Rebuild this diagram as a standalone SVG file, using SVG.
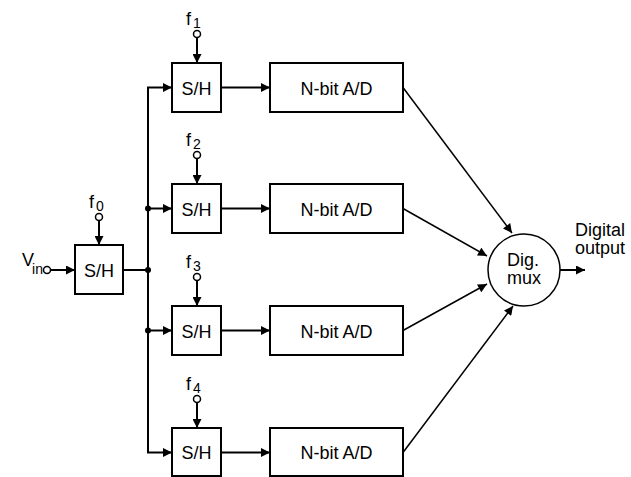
<svg xmlns="http://www.w3.org/2000/svg" width="631" height="477" viewBox="0 0 631 477">
  <style>
    .box { fill: #fff; stroke: #000; stroke-width: 2; }
    .wire { fill: none; stroke: #000; stroke-width: 2; }
    .thin { fill: none; stroke: #000; stroke-width: 1.5; }
    .term { fill: #fff; stroke: #000; stroke-width: 1.5; }
    .dot { fill: #000; }
    text { font-family: "Liberation Sans", Arial, sans-serif; font-size: 18px; fill: #000; }
    .mid { text-anchor: middle; }
    .end { text-anchor: end; }
    .sub { font-size: 14px; }
  </style>
  <defs>
    <marker id="arr" viewBox="0 0 10 10" refX="10" refY="5" markerWidth="10" markerHeight="9" markerUnits="userSpaceOnUse" orient="auto">
      <path d="M0,0 L10,5 L0,10 Z" fill="#000"/>
    </marker>
  </defs>

  <rect width="631" height="477" fill="#fff"/>

  <!-- connectors -->
  <g id="connectors">
    <!-- input to first sample/hold -->
    <line class="wire" x1="50.5" y1="270" x2="75" y2="270" marker-end="url(#arr)"/>
    <line class="wire" x1="99" y1="220.5" x2="99" y2="245" marker-end="url(#arr)"/>
    <!-- first S/H output onto the distribution bus -->
    <line class="wire" x1="123" y1="270" x2="148" y2="270"/>
    <line class="wire" x1="148" y1="87.5" x2="148" y2="452.5"/>
    <circle class="dot" cx="148" cy="270" r="3"/>
    <circle class="dot" cx="148" cy="208.5" r="3"/>
    <circle class="dot" cx="148" cy="330.5" r="3"/>
    <!-- bus to each channel S/H -->
    <line class="wire" x1="147" y1="87.5" x2="172" y2="87.5" marker-end="url(#arr)"/>
    <line class="wire" x1="148" y1="208.5" x2="172" y2="208.5" marker-end="url(#arr)"/>
    <line class="wire" x1="148" y1="330.5" x2="172" y2="330.5" marker-end="url(#arr)"/>
    <line class="wire" x1="147" y1="452.5" x2="172" y2="452.5" marker-end="url(#arr)"/>
    <!-- clock inputs -->
    <line class="wire" x1="197" y1="37.5" x2="197" y2="63" marker-end="url(#arr)"/>
    <line class="wire" x1="197" y1="158.5" x2="197" y2="184" marker-end="url(#arr)"/>
    <line class="wire" x1="197" y1="280.5" x2="197" y2="306" marker-end="url(#arr)"/>
    <line class="wire" x1="197" y1="402.5" x2="197" y2="428" marker-end="url(#arr)"/>
    <!-- S/H to A/D -->
    <line class="wire" x1="221" y1="87.5" x2="270" y2="87.5" marker-end="url(#arr)"/>
    <line class="wire" x1="221" y1="208.5" x2="270" y2="208.5" marker-end="url(#arr)"/>
    <line class="wire" x1="221" y1="330.5" x2="270" y2="330.5" marker-end="url(#arr)"/>
    <line class="wire" x1="221" y1="452.5" x2="270" y2="452.5" marker-end="url(#arr)"/>
    <!-- A/D outputs into the multiplexer -->
    <line class="thin" x1="403" y1="87.5" x2="512" y2="233" marker-end="url(#arr)"/>
    <line class="thin" x1="403" y1="208.5" x2="487" y2="256" marker-end="url(#arr)"/>
    <line class="thin" x1="403" y1="330.5" x2="487" y2="284" marker-end="url(#arr)"/>
    <line class="thin" x1="403" y1="452.5" x2="513" y2="306" marker-end="url(#arr)"/>
    <!-- multiplexer output -->
    <line class="wire" x1="560" y1="270" x2="585" y2="270" marker-end="url(#arr)"/>
  </g>

  <!-- input terminal -->
  <g id="vin">
    <text x="22" y="266">V</text>
    <text class="sub end" x="43" y="274">in</text>
    <circle class="term" cx="47" cy="270" r="3.5"/>
  </g>

  <!-- front-end sample/hold -->
  <g id="sh0">
    <rect class="box" x="75" y="245" width="48" height="49"/>
    <text class="mid" x="99" y="276.5">S/H</text>
    <text x="89" y="208">f</text>
    <text class="sub" x="96" y="211">0</text>
    <circle class="term" cx="99" cy="217" r="3.5"/>
  </g>

  <!-- channel 1 -->
  <g id="sh1">
    <rect class="box" x="172" y="63" width="49" height="49"/>
    <text class="mid" x="196.5" y="94.5">S/H</text>
    <text x="186" y="25">f</text>
    <text class="sub" x="193" y="28">1</text>
    <circle class="term" cx="197" cy="34" r="3.5"/>
  </g>
  <g id="ad1">
    <rect class="box" x="270" y="63" width="133" height="49"/>
    <text class="mid" x="336.5" y="94.5">N-bit A/D</text>
  </g>

  <!-- channel 2 -->
  <g id="sh2">
    <rect class="box" x="172" y="184" width="49" height="49"/>
    <text class="mid" x="196.5" y="215.5">S/H</text>
    <text x="186" y="146">f</text>
    <text class="sub" x="193" y="149">2</text>
    <circle class="term" cx="197" cy="155" r="3.5"/>
  </g>
  <g id="ad2">
    <rect class="box" x="270" y="184" width="133" height="49"/>
    <text class="mid" x="336.5" y="215.5">N-bit A/D</text>
  </g>

  <!-- channel 3 -->
  <g id="sh3">
    <rect class="box" x="172" y="306" width="49" height="49"/>
    <text class="mid" x="196.5" y="337.5">S/H</text>
    <text x="186" y="268">f</text>
    <text class="sub" x="193" y="271">3</text>
    <circle class="term" cx="197" cy="277" r="3.5"/>
  </g>
  <g id="ad3">
    <rect class="box" x="270" y="306" width="133" height="49"/>
    <text class="mid" x="336.5" y="337.5">N-bit A/D</text>
  </g>

  <!-- channel 4 -->
  <g id="sh4">
    <rect class="box" x="172" y="428" width="49" height="48"/>
    <text class="mid" x="196.5" y="459">S/H</text>
    <text x="186" y="390">f</text>
    <text class="sub" x="193" y="393">4</text>
    <circle class="term" cx="197" cy="399" r="3.5"/>
  </g>
  <g id="ad4">
    <rect class="box" x="270" y="428" width="133" height="48"/>
    <text class="mid" x="336.5" y="459">N-bit A/D</text>
  </g>

  <!-- digital multiplexer -->
  <g id="mux">
    <circle class="thin" cx="524" cy="270" r="36" fill="#fff"/>
    <text class="mid" x="523" y="266">Dig.</text>
    <text class="mid" x="524" y="284">mux</text>
  </g>

  <g id="output">
    <text class="mid" x="600" y="236">Digital</text>
    <text class="mid" x="600" y="254">output</text>
  </g>
</svg>
